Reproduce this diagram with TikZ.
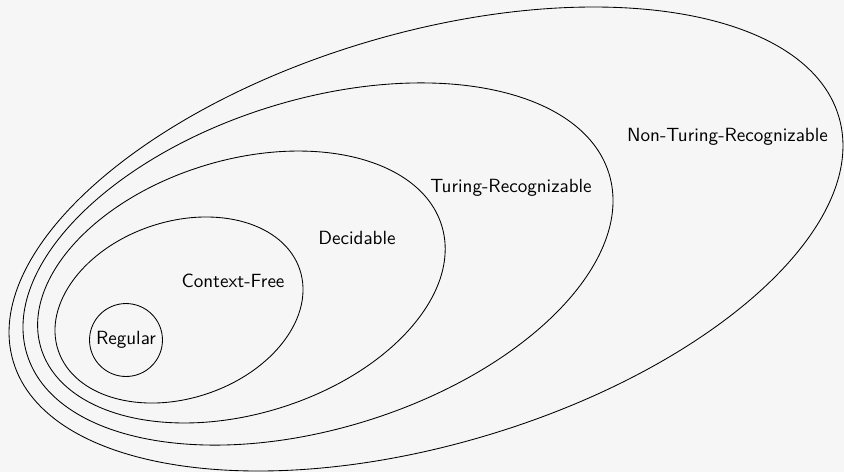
\documentclass[tikz,border=0pt]{standalone}
\usetikzlibrary{shapes.geometric}
\definecolor{bgc}{HTML}{F6F6F6}
\tikzset{
  setbox/.style={draw=black, line width=0.45pt, ellipse, inner sep=0pt, outer sep=0pt},
  lbl/.style={font=\sffamily, text=black, inner sep=0pt}
}
\begin{document}
\begin{tikzpicture}[x=0.5236pt, y=-0.5236pt]
  \fill[bgc] (0,0) rectangle (844,472);
  \useasboundingbox (0,0) rectangle (844,472);
  \node[setbox, minimum width=450.9pt, minimum height=215.3pt, rotate=16.5] (ntr) at (426,239) {};
  \node[setbox, minimum width=319.1pt, minimum height=171.95pt, rotate=17.3] (tr) at (318,264) {};
  \node[setbox, minimum width=219.4pt, minimum height=132.9pt, rotate=17] (dec) at (241.4,287) {};
  \node[setbox, minimum width=133.4pt, minimum height=92.5pt, rotate=18.5] (cf) at (179,310) {};
  \node[draw=black, line width=0.45pt, circle, minimum size=38.2pt, inner sep=0pt, font=\sffamily] (reg) at (126,340) {Regular};
  \node[lbl] (lntr) at (727.5,137) {Non-Turing-Recognizable};
  \node[lbl] (ltr) at (511,188) {Turing-Recognizable};
  \node[lbl] (ldec) at (357,238) {Decidable};
  \node[lbl] (lcf) at (233,281) {Context-Free};
\end{tikzpicture}
\end{document}
